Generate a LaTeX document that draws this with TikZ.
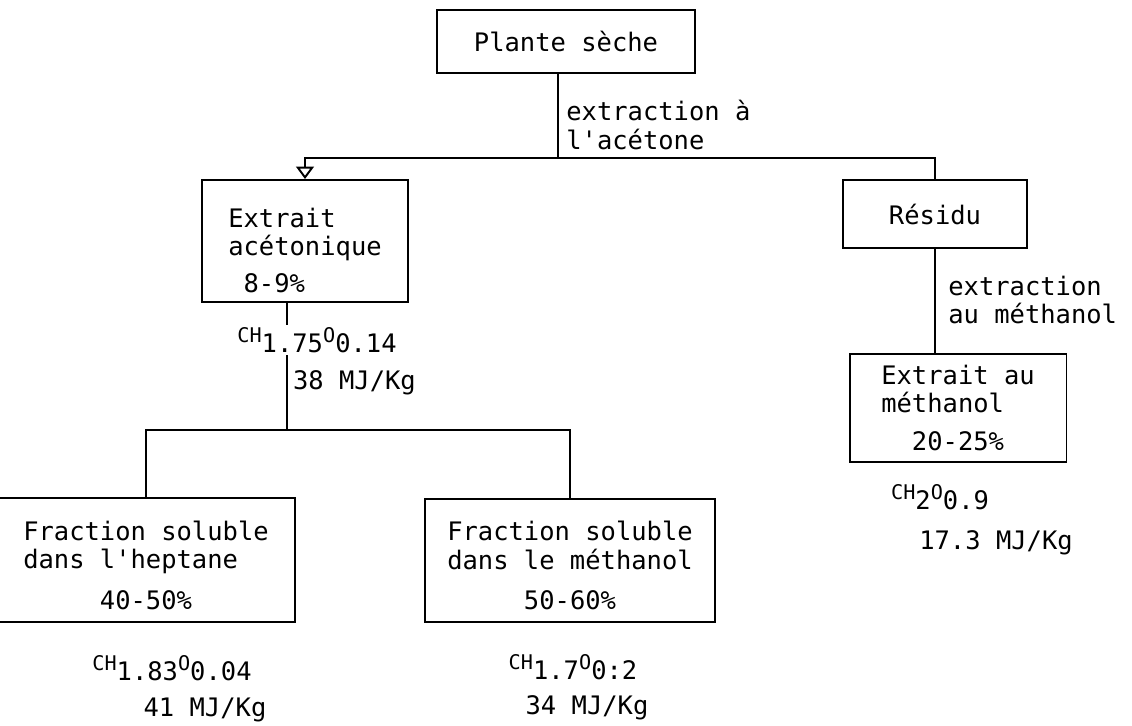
\documentclass[tikz,border=0pt]{standalone}
\usepackage{fontspec}
\setmonofont{DejaVu Sans Mono}
\usepackage{tikz}
\usetikzlibrary{arrows.meta}
\newcommand{\haut}[1]{\raisebox{0.75ex}{\fontsize{11.5}{11.5}\selectfont #1}}
\tikzset{
	boite/.style={rectangle, draw, line width=1.1pt, 
		font=\ttfamily\fontsize{14.5}{16}\selectfont, align=left, inner sep=0pt},
	formule/.style={font=\ttfamily\fontsize{14.5}{16}\selectfont, inner sep=1pt},
	etiq/.style={font=\ttfamily\fontsize{14.5}{16}\selectfont, align=left, 
		anchor=west, inner sep=0pt},
	lien/.style={line width=1.1pt}
}

\begin{document}
\begin{tikzpicture}[x=0.02cm, y=-0.02cm]
			\useasboundingbox (0,0) rectangle (1132,726);
			
			\node[boite, minimum width=5.16cm, minimum height=1.26cm] (plante) at (566,41.5) {Plante sèche};
			\node[boite, minimum width=4.12cm, minimum height=2.44cm] (acet) at (305,241) {\rule{0pt}{22pt}Extrait\\acétonique\\[5pt]~8-9\%};
			\node[boite, minimum width=3.68cm, minimum height=1.36cm] (residu) at (935,214) {Résidu};
			\node[boite, minimum width=4.34cm, minimum height=2.16cm] (emeth) at (958,408) {Extrait au\\méthanol\\[6pt]~~20-25\%};
			\node[boite, minimum width=5.96cm, minimum height=2.48cm] (fhep) at (146,560) {\rule{0pt}{17pt}Fraction soluble\\dans l'heptane\\[7pt]~~~~~40-50\%};
			\node[boite, minimum width=5.8cm, minimum height=2.46cm] (fmeth) at (570,560.5) {\rule{0pt}{17pt}Fraction soluble\\dans le méthanol\\[7pt]~~~~~50-60\%};
			
			\coordinate (ta) at (558,158);
			\coordinate (tb) at (287,430);
			\draw[lien] (plante.south -| ta) -- (ta);
			\draw[lien] (ta) -| (residu.north);
			\draw[lien, -{Triangle[open, length=7pt, width=10pt]}] (ta) -| (acet.north);
			\draw[lien] (residu.south) -- (residu.south |- emeth.north);
			\draw[lien] (acet.south -| tb) -- (tb);
			\draw[lien] (tb) -| (fhep.north);
			\draw[lien] (tb) -| (fmeth.north);
			
			\node[etiq] (extac) at (566,125) {extraction à\\l'acétone};
			\node[etiq] (extme) at (948,300) {extraction\\au méthanol};
			
			\node[formule, fill=white] (facet) at (317,340) {\haut{CH}1.75\haut{O}0.14};
			\node[formule, anchor=west] (eacet) at (291,383) {38 MJ/Kg};
			\node[formule] (fhept) at (172,668) {\haut{CH}1.83\haut{O}0.04};
			\node[formule] (ehept) at (205,710) {41 MJ/Kg};
			\node[formule] (fmetf) at (573,667) {\haut{CH}1.7\haut{O}0:2};
			\node[formule] (emetf) at (587,708) {34 MJ/Kg};
			\node[formule] (fmete) at (940,497) {\haut{CH}2\haut{O}0.9};
			\node[formule] (emete) at (996,543) {17.3 MJ/Kg};
		\end{tikzpicture}
\end{document}
